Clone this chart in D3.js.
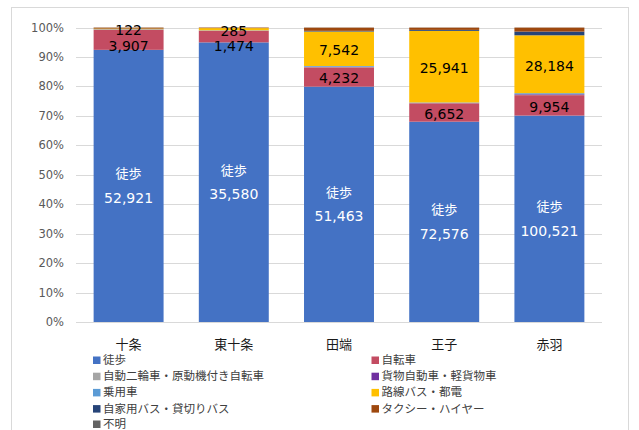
<!DOCTYPE html>
<html>
<head>
<meta charset="utf-8">
<script src="https://cdn.jsdelivr.net/npm/d3@7.9.0/dist/d3.min.js"></script>
<style>
  body { margin: 0; background: #fff; }
  svg { display: block; }
</style>
</head>
<body>
<div id="chart"></div>
<script>
const width = 639;
const height = 430;
const margin = { top: 27.5, right: 37, bottom: 108, left: 76 };

// stations (categories)
const stations = ['十条', '東十条', '田端', '王子', '赤羽'];

// travel modes (series), in stacking order
const modes = ['徒歩', '自転車', '自動二輪車・原動機付き自転車', '貨物自動車・軽貨物車', '乗用車',
  '路線バス・都電', '自家用バス・貸切りバス', 'タクシー・ハイヤー', '不明'];
const colors = ['#4472C4', '#C34C62', '#A5A5A5', '#7030A0', '#5B9BD5',
  '#FFC000', '#264478', '#9E480E', '#636363'];

// person counts per station, one array per mode
const walk = [52921, 35580, 51463, 72576, 100521];
const bicycle = [3907, 1474, 4232, 6652, 9954];
const motorbike = [40, 20, 80, 80, 150];
const truck = [15, 10, 50, 80, 300];
const car = [50, 30, 150, 150, 500];
const bus = [122, 285, 7542, 25941, 28184];
const charterBus = [10, 5, 150, 350, 1800];
const taxi = [180, 60, 700, 820, 1950];
const unknown = [20, 10, 30, 50, 50];

const series = [walk, bicycle, motorbike, truck, car, bus, charterBus, taxi, unknown];

const yTicks = [0, 0.1, 0.2, 0.3, 0.4, 0.5, 0.6, 0.7, 0.8, 0.9, 1];

const rows = stations.map((s, i) => {
  const total = d3.sum(series, arr => arr[i]);
  const row = { station: s };
  modes.forEach((m, k) => {
    row[m] = series[k][i] / total;
  });
  return row;
});

const svg = d3.select('#chart').append('svg')
  .attr('width', width)
  .attr('height', height);

// outer chart frame
svg.append('rect')
  .attr('x', 11.5).attr('y', 7.5)
  .attr('width', 617).attr('height', 440)
  .attr('fill', 'none')
  .attr('stroke', '#d9d9d9');

const x = d3.scaleBand()
  .domain(stations)
  .range([margin.left, width - margin.right])
  .paddingInner(0.335)
  .paddingOuter(0.1675);

const y = d3.scaleLinear()
  .domain([0, 1])
  .range([322, margin.top]);

// gridlines
svg.append('g')
  .selectAll('line')
  .data(yTicks)
  .join('line')
  .attr('x1', margin.left)
  .attr('x2', width - margin.right)
  .attr('y1', d => Math.round(y(d)) + 0.5)
  .attr('y2', d => Math.round(y(d)) + 0.5)
  .attr('stroke', '#d9d9d9');

// y tick labels
svg.append('g')
  .selectAll('text')
  .data(yTicks)
  .join('text')
  .attr('x', 64)
  .attr('y', d => y(d))
  .attr('dy', '0.35em')
  .attr('text-anchor', 'end')
  .attr('font-family', 'DejaVu Sans, Verdana, sans-serif')
  .attr('font-size', 11.5)
  .attr('fill', '#595959')
  .text(d => d3.format('.0%')(d));

const stacked = d3.stack().keys(modes)(rows);

svg.append('g')
  .selectAll('g')
  .data(stacked)
  .join('g')
  .attr('fill', (d, i) => colors[i])
  .selectAll('rect')
  .data(d => d)
  .join('rect')
  .attr('x', d => x(d.data.station))
  .attr('width', x.bandwidth())
  .attr('y', d => y(d[1]))
  .attr('height', d => y(d[0]) - y(d[1]));

// data labels
const fmt = d3.format(',');
const layerOf = key => stacked.find(l => l.key === key);
const numFont = 'DejaVu Sans, Verdana, sans-serif';

stations.forEach((s, i) => {
  const cx = x(s) + x.bandwidth() / 2;
  const mid = d => (y(d[0]) + y(d[1])) / 2;

  // walking: name + value, white
  const w = layerOf('徒歩')[i];
  svg.append('text')
    .attr('x', cx).attr('y', mid(w) - 12)
    .attr('dy', '0.35em')
    .attr('text-anchor', 'middle')
    .attr('font-family', 'Noto Sans CJK JP, sans-serif')
    .attr('font-size', 13)
    .attr('fill', '#fff')
    .text('徒歩');
  svg.append('text')
    .attr('x', cx).attr('y', mid(w) + 12)
    .attr('dy', '0.35em')
    .attr('text-anchor', 'middle')
    .attr('font-family', numFont)
    .attr('font-size', 14)
    .attr('fill', '#fff')
    .text(fmt(walk[i]));

  // bus label, then bicycle label kept below it when the segments are thin
  const b = layerOf('路線バス・都電')[i];
  const busY = mid(b) + 1.5;
  const bk = layerOf('自転車')[i];
  const bikeY = Math.max(mid(bk) + 1.5, busY + 15.5);

  [[busY, bus[i]], [bikeY, bicycle[i]]].forEach(([ly, n]) => {
    svg.append('text')
      .attr('x', cx).attr('y', ly)
      .attr('dy', '0.35em')
      .attr('text-anchor', 'middle')
      .attr('font-family', numFont)
      .attr('font-size', 14)
      .attr('fill', '#000')
      .text(fmt(n));
  });
});

// category labels
svg.append('g')
  .selectAll('text')
  .data(stations)
  .join('text')
  .attr('x', d => x(d) + x.bandwidth() / 2)
  .attr('y', 344)
  .attr('dy', '0.35em')
  .attr('text-anchor', 'middle')
  .attr('font-family', 'Noto Sans CJK JP, sans-serif')
  .attr('font-size', 13)
  .attr('fill', '#1a1a1a')
  .text(d => d);

// legend: two columns, left column first
const legendRows = [360, 376.2, 392.4, 408.6, 424];
const legendCols = [93, 371.5];
const legend = svg.append('g')
  .selectAll('g')
  .data(modes)
  .join('g')
  .attr('transform', (d, i) => `translate(${legendCols[i % 2]}, ${legendRows[Math.floor(i / 2)]})`);

legend.append('rect')
  .attr('x', 0).attr('y', -3.5)
  .attr('width', 7.5).attr('height', 7.5)
  .attr('fill', (d, i) => colors[i]);

legend.append('text')
  .attr('x', 10)
  .attr('y', 0)
  .attr('dy', '0.35em')
  .attr('font-family', 'Noto Sans CJK JP, sans-serif')
  .attr('font-size', 11.5)
  .attr('fill', '#404040')
  .text(d => d);
</script>
</body>
</html>
